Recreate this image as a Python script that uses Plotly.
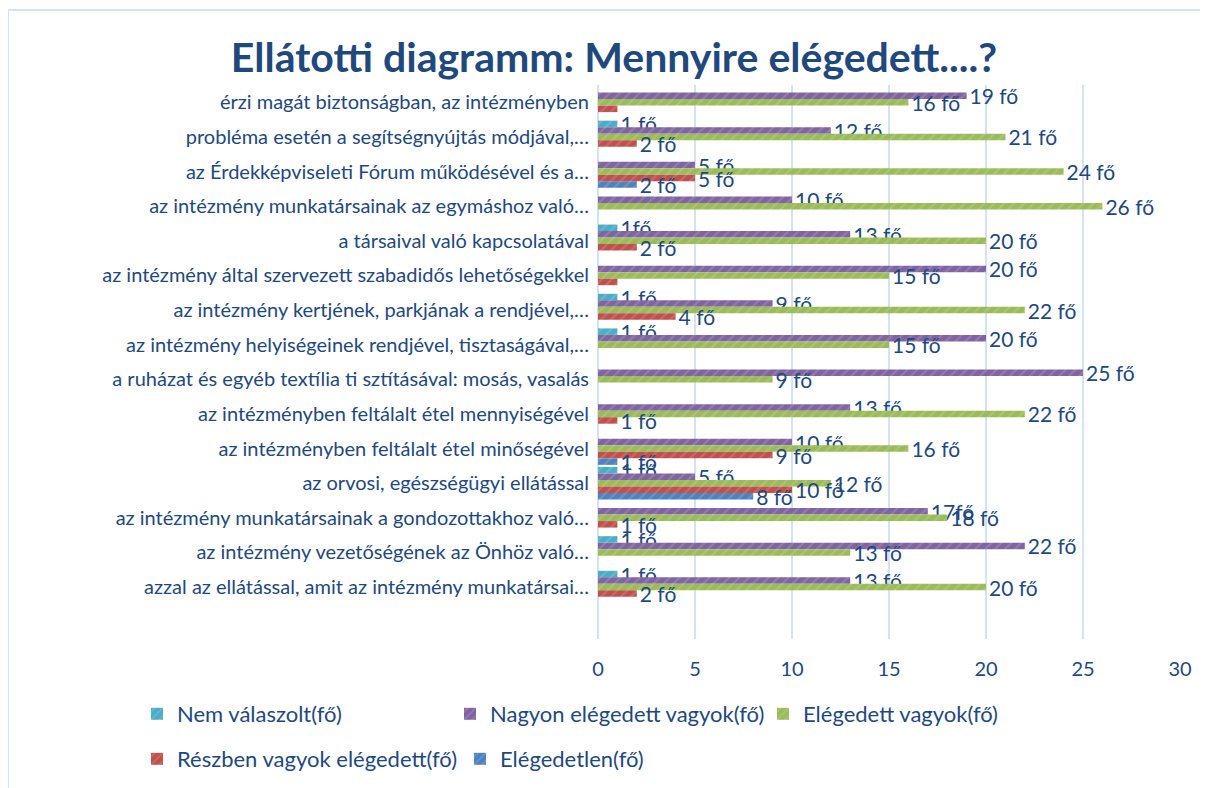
import plotly.graph_objects as go

categories = [
    "érzi magát biztonságban, az intézményben",
    "probléma esetén a segítségnyújtás módjával,…",
    "az Érdekképviseleti Fórum működésével és a…",
    "az intézmény munkatársainak az egymáshoz való…",
    "a társaival való kapcsolatával",
    "az intézmény által szervezett szabadidős lehetőségekkel",
    "az intézmény kertjének, parkjának a rendjével,…",
    "az intézmény helyiségeinek rendjével, tisztaságával,…",
    "a ruházat és egyéb textília ti sztításával: mosás, vasalás",
    "az intézményben feltálalt étel mennyiségével",
    "az intézményben feltálalt étel minőségével",
    "az orvosi, egészségügyi ellátással",
    "az intézmény munkatársainak a gondozottakhoz való…",
    "az intézmény vezetőségének az Önhöz való…",
    "azzal az ellátással, amit az intézmény munkatársai…",
]

nem_valaszolt = [0, 1, 0, 0, 1, 0, 1, 1, 0, 0, 0, 1, 0, 1, 1]
nagyon_elegedett = [19, 12, 5, 10, 13, 20, 9, 20, 25, 13, 10, 5, 17, 22, 13]
elegedett = [16, 21, 24, 26, 20, 15, 22, 15, 9, 22, 16, 12, 18, 13, 20]
reszben = [1, 2, 5, 0, 2, 1, 4, 0, 0, 1, 9, 10, 1, 0, 2]
elegedetlen = [0, 0, 2, 0, 0, 0, 0, 0, 0, 0, 1, 8, 0, 0, 0]

# label texts as shown on the chart ("" = no label)
nem_labels = ["", "1 fő", "", "", "1fő", "", "1 fő", "1 fő", "", "", "", "1 fő", "", "1 fő", "1 fő"]
nagyon_labels = ["19 fő", "12 fő", "5 fő", "10 fő", "13 fő", "20 fő", "9 fő", "20 fő", "25 fő",
                 "13 fő", "10 fő", "5 fő", "17fő", "22 fő", "13 fő"]
elegedett_labels = ["16 fő", "21 fő", "24 fő", "26 fő", "20 fő", "15 fő", "22 fő", "15 fő", "9 fő",
                    "22 fő", "16 fő", "12 fő", "18 fő", "13 fő", "20 fő"]
reszben_labels = ["", "2 fő", "5 fő", "", "2 fő", "", "4 fő", "", "", "1 fő", "9 fő", "10 fő", "1 fő", "", "2 fő"]
elegedetlen_labels = ["", "", "2 fő", "", "", "", "", "", "", "", "1 fő", "8 fő", "", "", ""]

series = [
    ("Nem válaszolt(fő)", nem_valaszolt, nem_labels, "#4BACC6", "legend"),
    ("Nagyon elégedett vagyok(fő)", nagyon_elegedett, nagyon_labels, "#8064A2", "legend"),
    ("Elégedett vagyok(fő)", elegedett, elegedett_labels, "#9BBB59", "legend"),
    ("Részben vagyok elégedett(fő)", reszben, reszben_labels, "#C0504D", "legend2"),
    ("Elégedetlen(fő)", elegedetlen, elegedetlen_labels, "#4F81BD", "legend2"),
]

TXT = "#1F497D"
FONT = "Lato"

fig = go.Figure()
for name, vals, labels, color, leg in series:
    fig.add_trace(go.Bar(
        name=name, y=categories, x=vals, orientation="h",
        text=labels, textposition="outside", constraintext="none", cliponaxis=False,
        textfont=dict(family=FONT, size=21, color=TXT),
        marker=dict(color=color, line=dict(width=0),
                    pattern=dict(shape="/", fgcolor="#ffffff", fgopacity=0.15, size=7, solidity=0.3)),
        legend=leg,
    ))

# figure coordinates (page is offset by the browser's 8px body margin)
L, R, T, B = 590, 36, 77, 157
W, H = 1208, 788
pw, ph = W - L - R, H - T - B

def px_x(p):
    return (p - L) / pw

def px_y(p):
    return (H - B - p) / ph

fig.update_layout(
    width=W, height=H,
    margin=dict(l=L, r=R, t=T, b=B, autoexpand=False),
    paper_bgcolor="white", plot_bgcolor="white",
    barmode="group", bargap=0.06, bargroupgap=0,
    font=dict(family=FONT, color=TXT),
    title=dict(text="<b>Ellátotti diagramm: Mennyire elégedett....?</b>",
               xref="container", x=606 / W, xanchor="center",
               yref="container", y=1 - 50 / H, yanchor="middle",
               font=dict(family=FONT, size=41, color=TXT)),
    xaxis=dict(range=[0, 30], dtick=5, tick0=0, showgrid=True, gridcolor="#D5E2F2", gridwidth=1.5,
               zeroline=True, zerolinecolor="#D5E2F2", zerolinewidth=1.5, showline=False,
               ticks="", tickfont=dict(family=FONT, size=20, color=TXT), ticklabelstandoff=16),
    yaxis=dict(type="category", categoryarray=categories, range=[15.5, -0.5],
               showgrid=False, zeroline=False, showline=False, ticks="",
               tickfont=dict(family=FONT, size=20, color=TXT), ticklabelstandoff=8),
    showlegend=True,
    legend=dict(orientation="h", x=px_x(129), xanchor="left", y=px_y(685), yanchor="top",
                entrywidth=268, entrywidthmode="pixels", font=dict(family=FONT, size=22, color=TXT),
                bgcolor="rgba(0,0,0,0)"),
    legend2=dict(orientation="h", x=px_x(129), xanchor="left", y=px_y(730), yanchor="top",
                 entrywidth=278, entrywidthmode="pixels", font=dict(family=FONT, size=22, color=TXT),
                 bgcolor="rgba(0,0,0,0)"),
    shapes=[dict(type="rect", xref="paper", yref="paper",
                 x0=px_x(0), x1=px_x(1230), y0=px_y(2), y1=px_y(820),
                 line=dict(color="#D5E2F2", width=2), layer="below")],
)

fig.write_html("out.html")
